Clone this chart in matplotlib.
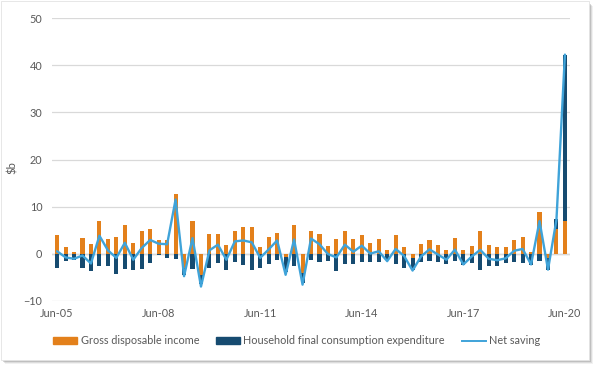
import numpy as np
import matplotlib.pyplot as plt
from matplotlib.patches import Patch, Rectangle
from matplotlib.lines import Line2D

plt.rcParams['font.family'] = ['Lato', 'DejaVu Sans']

# Quarterly changes, Jun-05 .. Jun-20 ($b)
quarters = ["Jun-05", "Jun-08", "Jun-11", "Jun-14", "Jun-17", "Jun-20"]
gdi = [4.0, 1.4, 0.3, 3.3, 2.0, 7.0, 3.2, 3.5, 6.1, 2.3,
       4.9, 5.2, 2.9, 2.9, 12.7, -3.0, 7.0, -4.5, 4.2, 4.2,
       1.8, 4.9, 5.7, 5.7, 1.5, 3.6, 4.3, -0.8, 6.0, -4.1,
       4.9, 4.1, 1.6, 3.1, 4.9, 3.1, 4.0, 2.3, 3.1, 0.85,
       4.0, 1.5, -1.0, 2.1, 2.8, 1.8, 0.8, 3.3, 0.7, 1.7,
       4.9, 1.9, 1.5, 1.3, 3.0, 3.5, 0.35, 8.9, -1.0, 5.2, 7.0]
hfce = [-3.0, -1.6, -1.3, -3.0, -3.8, -2.7, -2.7, -4.3, -3.3, -3.4,
        -3.3, -2.1, -0.4, -0.9, -1.1, -1.5, -3.2, -2.0, -3.0, -2.0,
        -3.4, -1.8, -2.5, -3.5, -3.0, -2.2, -1.3, -3.2, -2.7, -2.1,
        -1.3, -1.8, -1.5, -3.8, -2.3, -2.3, -1.8, -1.8, -1.8, -1.4,
        -2.3, -3.0, -2.4, -1.8, -1.5, -1.8, -2.2, -1.5, -2.5, -1.9,
        -3.5, -2.7, -2.7, -2.0, -1.8, -2.0, -2.5, -1.5, -2.4, 2.2, 35.2]
net_saving = [0.5, -0.8, -1.1, -0.4, -2.1, 3.8, 0.7, -0.9, 2.3, -1.3,
              1.2, 2.9, 2.1, 2.0, 11.5, -4.8, 3.3, -7.0, 0.7, 1.9,
              -1.3, 2.6, 2.8, 2.4, -0.9, 0.9, 2.8, -4.5, 3.0, -6.6,
              3.2, 2.0, -0.1, -0.8, 1.9, 0.4, 1.7, 0.0, 0.5, -1.6,
              1.0, -0.5, -3.6, -0.6, 0.9, -0.2, -1.3, 0.85, -2.3, -0.6,
              0.8, -1.1, -1.4, -1.0, 0.6, 1.0, -2.3, 6.9, -3.4, 7.2, 42.3]

ORANGE = '#E3801B'
NAVY = '#164B70'
LIGHT = '#3FA3D9'
GREY = '#595959'

fig = plt.figure(figsize=(6, 3.68), dpi=100)

# card with drop shadow
for k, a in enumerate([0.10, 0.18, 0.30]):
    off = (3 - k) / 600
    fig.patches.append(Rectangle((0.004 + off, 0.018 - off * 1.63), 0.98, 0.975,
                                 transform=fig.transFigure, facecolor='#7f7f7f',
                                 edgecolor='none', alpha=a, zorder=0))
fig.patches.append(Rectangle((0.002, 0.022), 0.98, 0.975, transform=fig.transFigure,
                             facecolor='white', edgecolor='#e3e3e3', lw=0.6, zorder=1))

ax = fig.add_axes([0.0867, 0.183, 0.8633, 0.767])
ax.set_zorder(2)
ax.patch.set_alpha(0)

x = np.arange(len(gdi))
gdi_a = np.array(gdi)
hfce_a = np.array(hfce)
bottom_h = np.where(np.sign(hfce_a) == np.sign(gdi_a), gdi_a, 0)

ax.bar(x, gdi_a, width=0.48, color=ORANGE, zorder=2)
ax.bar(x, hfce_a, width=0.48, bottom=bottom_h, color=NAVY, zorder=2)
ax.plot(x, net_saving, color=LIGHT, lw=1.7, zorder=3,
        solid_joinstyle='round', solid_capstyle='round')

ax.set_xlim(-0.6, len(gdi) - 0.4)
ax.set_ylim(-10, 50)
ax.set_yticks(range(-10, 51, 10))
ax.set_xticks(range(0, len(gdi), 12))
ax.set_xticklabels(quarters)
ax.grid(axis='y', color='#d9d9d9', lw=0.9, zorder=0)
ax.axhline(0, color='#d0d0d0', lw=1.0, zorder=1)
ax.tick_params(length=0, labelsize=7.8, labelcolor=GREY, pad=7)
ax.tick_params(axis='x', pad=5)
for s in ax.spines.values():
    s.set_visible(False)
ax.set_ylabel('$b', fontsize=8, color=GREY)
ax.yaxis.set_label_coords(-0.066, 0.47)

handles = [Patch(color=ORANGE), Patch(color=NAVY), Line2D([], [], color=LIGHT, lw=1.4)]
labels = ['Gross disposable income', 'Household final consumption expenditure', 'Net saving']
fig.legend(handles, labels, loc='center', bbox_to_anchor=(0.495, 0.074), ncol=3,
           frameon=False, fontsize=7.8, labelcolor=GREY, handlelength=2.2,
           handleheight=0.6, handletextpad=0.3, columnspacing=1.6)

fig.savefig('out.png', dpi=100)
